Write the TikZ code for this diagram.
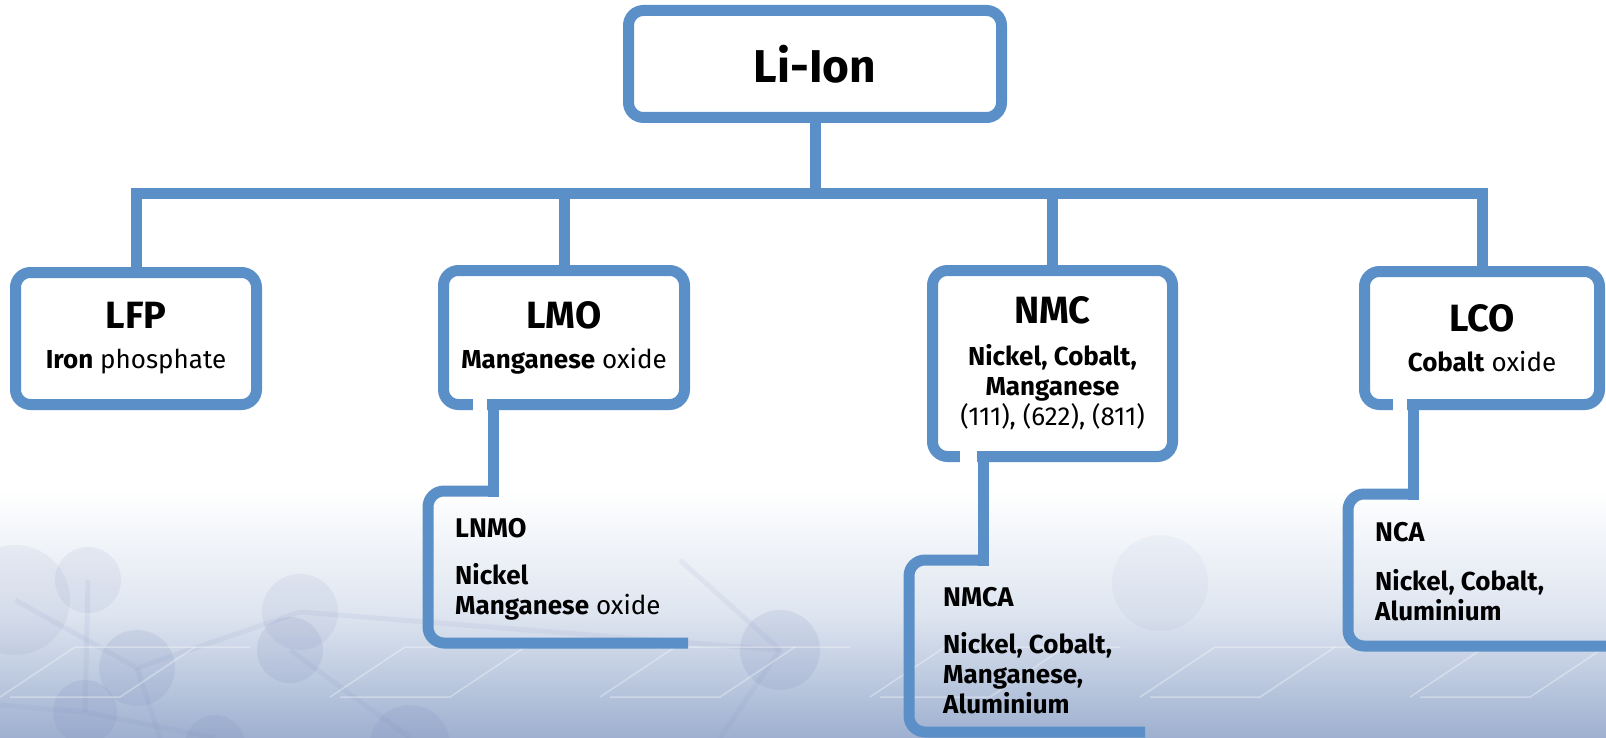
\documentclass[tikz,border=0pt]{standalone}
\usepackage{fontspec}
\setmainfont{Fira Sans}
\definecolor{libBlue}{RGB}{91,143,199}
\definecolor{bgMid}{RGB}{222,229,240}
\definecolor{bgLow}{RGB}{158,176,208}
\definecolor{bgBall}{RGB}{120,135,185}
\tikzset{
  link/.style={draw=libBlue, line width=11pt},
  famibox/.style={draw=libBlue, line width=11pt, rounded corners=15pt, fill=white,
    inner sep=0pt, align=center, font=\fontsize{26}{30}\selectfont},
  subtxt/.style={anchor=north west, inner sep=0pt, align=left, font=\fontsize{26}{30}\selectfont},
  ball/.style={fill=bgBall, opacity=0.14},
  bond/.style={draw=bgBall, line width=5pt, opacity=0.09}
}
\newcommand{\famtitle}[1]{{\fontsize{38}{30}\selectfont\bfseries #1}}
\newcommand{\subtitle}[1]{{\fontsize{27}{30}\selectfont\bfseries #1}}
\begin{document}
\begin{tikzpicture}[x=1pt,y=-1pt]
\useasboundingbox (0,0) rectangle (1606,738);
\fill[white] (0,0) rectangle (1606,738);
\shade[top color=white, bottom color=bgMid] (0,490) rectangle (1606,615);
\shade[top color=bgMid, bottom color=bgLow] (0,614) rectangle (1606,738);

\draw[bond] (15,600)--(137,668)--(300,612);
\draw[bond] (88,580)--(85,712);
\draw[bond] (0,705)--(85,712)--(215,738);
\draw[bond] (290,650)--(410,738);
\draw[bond] (137,668)--(160,738);
\draw[bond] (300,612)--(780,650);
\draw[bond] (680,560)--(780,650)--(720,738);
\fill[ball, opacity=0.09] (15,600) circle (55);
\fill[ball, opacity=0.10] (88,580) circle (33);
\fill[ball] (137,668) circle (38);
\fill[ball] (85,712) circle (32);
\fill[ball, opacity=0.10] (300,612) circle (38);
\fill[ball] (290,650) circle (33);
\fill[ball] (215,745) circle (30);
\fill[ball] (410,745) circle (40);
\fill[ball] (780,650) circle (40);
\fill[ball, opacity=0.06] (1160,583) circle (48);
\foreach \gx in {0,330,600,870,1140,1410}{
  \draw[white, line width=1.5pt, opacity=0.35] (\gx,697)--(\gx+75,647)--(\gx+250,647);
  \draw[white, line width=1.5pt, opacity=0.35] (\gx+10,697)--(\gx+120,697)--(\gx+195,647);
}

\node[famibox, minimum width=373, minimum height=107] (liion) at (815,64)
  {{\fontsize{46}{50}\selectfont\bfseries Li-Ion}};

\node[famibox, minimum width=241, minimum height=132] (lfp) at (136,338.5)
  {\famtitle{LFP}\\[10pt]\textbf{Iron} phosphate};
\node[famibox, minimum width=241, minimum height=134] (lmo) at (564,337.5)
  {\famtitle{LMO}\\[10pt]\textbf{Manganese} oxide};
\node[famibox, minimum width=240, minimum height=186] (nmc) at (1052.5,363.5)
  {\famtitle{NMC}\\[12pt]\textbf{Nickel, Cobalt,}\\\textbf{Manganese}\\(111), (622), (811)};
\node[famibox, minimum width=235, minimum height=133] (lco) at (1482,338)
  {\famtitle{LCO}\\[10pt]\textbf{Cobalt} oxide};

\coordinate (bar) at (815,194);
\draw[link] (liion.south) -- (bar);
\draw[link] (lfp.north) |- (bar) -| (lco.north);
\draw[link] (lmo.north) -- (lmo.north |- bar);
\draw[link] (nmc.north) -- (nmc.north |- bar);

\coordinate (lnmo-knee) at (493,491);
\coordinate (nmca-knee) at (983,560);
\coordinate (nca-knee) at (1413,494);

\fill[white] (473,398) rectangle (487,411);
\fill[white] (960,450) rectangle (977,463);
\fill[white] (1393,398) rectangle (1407,411);

\draw[link] (lmo.south -| lnmo-knee) -- ([yshift=-5.5pt]lnmo-knee);
\draw[link, rounded corners=16pt] ([xshift=5.5pt]lnmo-knee) -| (428,643) -- (688,643);
\draw[link] (nmc.south -| nmca-knee) -- ([yshift=-5.5pt]nmca-knee);
\draw[link, rounded corners=16pt] ([xshift=5.5pt]nmca-knee) -| (909,732) -- (1145,732);
\draw[link] (lco.south -| nca-knee) -- ([yshift=-5.5pt]nca-knee);
\draw[link, rounded corners=16pt] ([xshift=5.5pt]nca-knee) -| (1348,646) -- (1612,646);

\node[subtxt] (lnmo) at (455,518)
  {\subtitle{LNMO}\\[17pt]\textbf{Nickel}\\\textbf{Manganese} oxide};
\node[subtxt] (nmca) at (943,587)
  {\subtitle{NMCA}\\[17pt]\textbf{Nickel, Cobalt,}\\\textbf{Manganese,}\\\textbf{Aluminium}};
\node[subtxt] (nca) at (1375,522)
  {\subtitle{NCA}\\[19pt]\textbf{Nickel, Cobalt,}\\\textbf{Aluminium}};
\end{tikzpicture}
\end{document}
